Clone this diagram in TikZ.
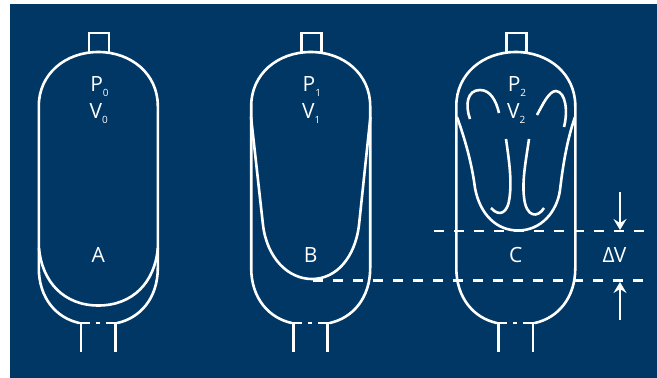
\documentclass[tikz,border=0pt]{standalone}
\usepackage{fontspec}
\setmainfont{Open Sans}
\usetikzlibrary{arrows.meta}
\definecolor{panel}{HTML}{003764}
\newcommand{\subidx}[1]{\raisebox{-5pt}{\fontsize{10}{10}\selectfont #1}}
\tikzset{
  wall/.style={white,line width=2.6pt},
  level/.style={white,line width=2.8pt,dash pattern=on 10pt off 10pt},
  marker/.style={white,line width=2.6pt,-{Stealth[length=11pt,width=13pt,inset=4pt]}},
  vlabel/.style={white,font=\fontsize{21}{21}\selectfont,inner sep=0pt,anchor=base}
}

\begin{document}
\begin{tikzpicture}[x=1pt,y=-1pt]
  \useasboundingbox (0,0) rectangle (657,378);
  \fill[panel] (10,4) rectangle (657,378);

  % Vessel shells, valves and ports
  \foreach \cx/\tag/\idx in {98.3/A/0,310.7/B/1,515.8/C/2} {
    \begin{scope}[xshift=\cx pt]
      \draw[wall] (-19,323) .. controls (-42,318) and (-59.5,298) .. (-59.5,268)
        -- (-59.5,106) .. controls (-59.5,74) and (-33,52) .. (0,52)
        .. controls (33,52) and (59.5,74) .. (59.5,106)
        -- (59.5,268) .. controls (59.5,298) and (42,318) .. (19,323);
      \draw[wall] (-9.5,52) -- (-9.5,33) -- (10.5,33) -- (10.5,52);
      \draw[wall] (-19.5,323) -- (-8.5,323) (-2.5,323) -- (1.5,323) (7.5,323) -- (19.5,323);
      \draw[wall] (-17.5,323) -- (-17.5,352);
      \draw[wall] (17,323) -- (17,352);
      \node[vlabel] (p\tag) at (1.2,91) {P\subidx{\idx}};
      \node[vlabel] (v\tag) at (0.5,118) {V\subidx{\idx}};
      \node[vlabel] (name\tag) at (0,262) {\tag};
    \end{scope}
  }

  % Bladder A
  \draw[wall] (39,248) .. controls (42,282) and (64,305.5) .. (98.3,305.5)
    .. controls (133,305.5) and (155,282) .. (157.8,248);

  % Bladder B
  \draw[wall] (251,117) -- (263,225) .. controls (267,258) and (288,279) .. (312,279)
    .. controls (336,279) and (355,258) .. (359,225) -- (370.4,117);

  % Bladder C and its folds
  \draw[wall] (457,117) .. controls (466,142) and (472,165) .. (475,188)
    .. controls (480,215) and (497,230.5) .. (518,230.5)
    .. controls (541,230.5) and (557,212) .. (560,190)
    .. controls (563,165) and (567,140) .. (575,117);
  \draw[wall] (470,119) .. controls (465,105) and (467,90) .. (480,90)
    .. controls (490,90) and (496,100) .. (499,113);
  \draw[wall] (537,115) .. controls (543,104) and (549,91) .. (556,91)
    .. controls (566,92) and (568,112) .. (564,127);
  \draw[wall] (506,139) .. controls (509,160) and (512,180) .. (509.5,198)
    .. controls (508,212) and (500,218) .. (491,208);
  \draw[wall] (529,139) .. controls (526,160) and (522,180) .. (524,197)
    .. controls (526,218) and (538,218) .. (544,208);

  % Level lines and the volume change
  \coordinate (upL) at (434,231);
  \coordinate (upR) at (644,231);
  \coordinate (lowL) at (312.5,280.5);
  \coordinate (lowR) at (644,280.5);
  \coordinate (topS) at (620,192);
  \coordinate (topE) at (620,230);
  \coordinate (botS) at (620,320);
  \coordinate (botE) at (620,282);
  \draw[level] (upL) -- (upR);
  \draw[level] (lowL) -- (lowR);
  \draw[marker] (topS) -- (topE);
  \draw[marker] (botS) -- (botE);
  \node[vlabel] (dv) at (614.5,262.5) {Δ\kern-1ptV};
\end{tikzpicture}
\end{document}
